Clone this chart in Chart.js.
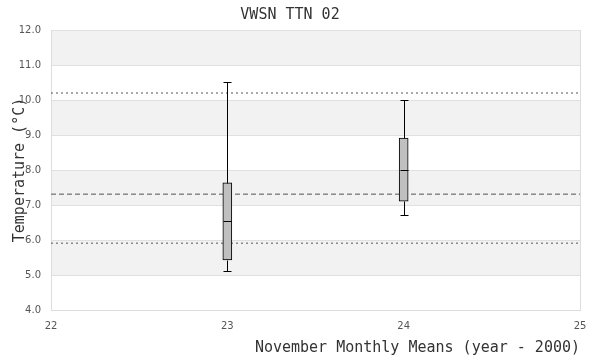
<!DOCTYPE html>
<html>
<head>
<meta charset="utf-8">
<script src="https://cdn.jsdelivr.net/npm/chart.js@4"></script>
<style>
  html, body { margin: 0; padding: 0; background: #fff; }
  #wrap { width: 600px; height: 360px; }
</style>
</head>
<body>
<div id="wrap"><canvas id="chart"></canvas></div>
<script>
const years = [23, 24];
const whiskerLow = [5.11, 6.71];
const boxLow = [5.43, 7.11];
const medians = [6.54, 7.99];
const boxHigh = [7.63, 8.91];
const whiskerHigh = [10.51, 10.0];

const refUpper = 10.2;
const refMean = 7.31;
const refLower = 5.91;

const xRange = [22, 25];
const yRange = [4, 12];

const monoFont = "'DejaVu Sans Mono', monospace";
const sansFont = "'DejaVu Sans', sans-serif";

function refLine(val, dash) {
    return {
        type: "line",
        data: xRange.map(x => ({ x: x, y: val })),
        borderColor: "#555",
        borderWidth: 1,
        borderDash: dash,
        pointRadius: 0,
        order: 2
    };
}

// alternate grey bands behind the grid
const bandsPlugin = {
    id: "bands",
    beforeDraw(chart) {
        const { ctx, chartArea, scales } = chart;
        ctx.save();
        ctx.fillStyle = "#f2f2f2";
        for (let v = yRange[0] + 1; v < yRange[1]; v += 2) {
            const top = scales.y.getPixelForValue(v + 1);
            const bot = scales.y.getPixelForValue(v);
            ctx.fillRect(chartArea.left, top, chartArea.right - chartArea.left, bot - top);
        }
        ctx.restore();
    }
};

// whiskers, caps and medians on top of the boxes
const whiskerPlugin = {
    id: "whiskers",
    afterDatasetsDraw(chart) {
        const { ctx, scales } = chart;
        const half = 4;
        ctx.save();
        ctx.strokeStyle = "#000";
        ctx.lineWidth = 1;
        years.forEach((yr, i) => {
            const x = Math.round(scales.x.getPixelForValue(yr)) + 0.5;
            const py = v => Math.round(scales.y.getPixelForValue(v)) + 0.5;
            ctx.beginPath();
            ctx.moveTo(x, py(whiskerHigh[i]));
            ctx.lineTo(x, py(boxHigh[i]));
            ctx.moveTo(x, py(boxLow[i]));
            ctx.lineTo(x, py(whiskerLow[i]));
            ctx.moveTo(x - half, py(whiskerHigh[i]));
            ctx.lineTo(x + half, py(whiskerHigh[i]));
            ctx.moveTo(x - half, py(whiskerLow[i]));
            ctx.lineTo(x + half, py(whiskerLow[i]));
            ctx.moveTo(x - half, py(medians[i]));
            ctx.lineTo(x + half, py(medians[i]));
            ctx.stroke();
        });
        ctx.restore();
    }
};

new Chart(document.getElementById("chart"), {
    type: "bar",
    data: {
        datasets: [
            {
                type: "bar",
                data: years.map((yr, i) => ({ x: yr, y: [boxLow[i], boxHigh[i]] })),
                backgroundColor: "#c0c0c0",
                borderColor: "#000",
                borderWidth: 1,
                borderSkipped: false,
                barThickness: 9,
                order: 1
            },
            refLine(refUpper, [2, 3]),
            refLine(refMean, [5, 3]),
            refLine(refLower, [2, 3])
        ]
    },
    options: {
        responsive: true,
        maintainAspectRatio: false,
        animation: false,
        layout: { padding: { left: 0, right: 20, top: 0, bottom: 0 } },
        plugins: {
            legend: { display: false },
            tooltip: { enabled: false },
            title: {
                display: true,
                text: "VWSN TTN 02",
                color: "#333",
                font: { family: monoFont, size: 15, weight: "normal" },
                padding: { top: 6, bottom: 6 }
            }
        },
        scales: {
            x: {
                type: "linear",
                min: xRange[0],
                max: xRange[1],
                offset: false,
                ticks: {
                    stepSize: 1,
                    padding: 10,
                    color: "#555",
                    font: { family: sansFont, size: 10 }
                },
                grid: {
                    offset: false,
                    drawTicks: false,
                    color: ctx => (ctx.tick && (ctx.tick.value === xRange[0] || ctx.tick.value === xRange[1])) ? "#ddd" : "rgba(0,0,0,0)"
                },
                border: { color: "#ddd" },
                title: {
                    display: true,
                    text: "November Monthly Means (year - 2000)",
                    align: "end",
                    color: "#333",
                    font: { family: monoFont, size: 15, weight: "normal" },
                    padding: { top: 4, bottom: 3 }
                },
                afterFit(scale) { scale.height = 50; }
            },
            y: {
                min: yRange[0],
                max: yRange[1],
                ticks: {
                    stepSize: 1,
                    padding: 10,
                    color: "#555",
                    font: { family: sansFont, size: 10 },
                    callback: v => v.toFixed(1)
                },
                grid: { drawTicks: false, color: "#e0e0e0" },
                border: { color: "#ddd" },
                title: {
                    display: true,
                    text: "Temperature (°C)",
                    color: "#333",
                    font: { family: monoFont, size: 15, weight: "normal" },
                    padding: { top: 11, bottom: 0 }
                },
                afterFit(scale) { scale.width = 51; }
            }
        }
    },
    plugins: [bandsPlugin, whiskerPlugin]
});
</script>
</body>
</html>
